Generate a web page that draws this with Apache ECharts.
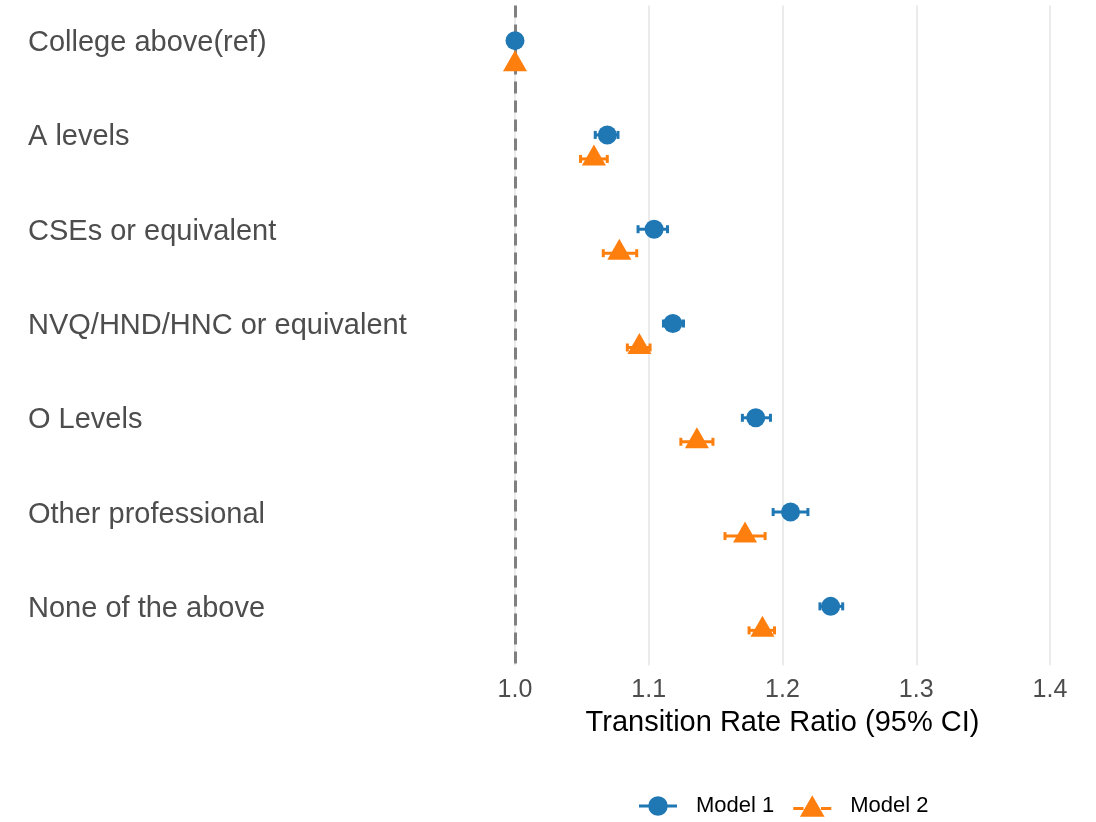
<!DOCTYPE html>
<html>
<head>
<meta charset="utf-8">
<title>Transition Rate Ratio by qualification</title>
<script src="https://cdn.jsdelivr.net/npm/echarts@6/dist/echarts.min.js"></script>
<style>
  html, body { margin: 0; padding: 0; background: #ffffff; }
  #chart { width: 1096px; height: 822px; }
</style>
</head>
<body>
<div id="chart"></div>
<script>
// Qualification categories (top to bottom)
const categories = [
  'College above(ref)',
  'A levels',
  'CSEs or equivalent',
  'NVQ/HND/HNC or equivalent',
  'O Levels',
  'Other professional',
  'None of the above'
];

// Model 1: rate ratio and 95% CI
const m1Est  = [1.000, 1.069, 1.104, 1.118, 1.180, 1.206, 1.236];
const m1Low  = [1.000, 1.060, 1.092, 1.111, 1.170, 1.193, 1.228];
const m1High = [1.000, 1.077, 1.114, 1.126, 1.191, 1.219, 1.245];

// Model 2: rate ratio and 95% CI
const m2Est  = [1.000, 1.059, 1.078, 1.093, 1.136, 1.172, 1.185];
const m2Low  = [1.000, 1.049, 1.066, 1.084, 1.124, 1.157, 1.175];
const m2High = [1.000, 1.069, 1.091, 1.101, 1.148, 1.187, 1.194];

// x-axis ticks
const xTicks = [1.0, 1.1, 1.2, 1.3, 1.4];

const blue = '#1f77b4';
const orange = '#ff7f0e';
const FONT = "'Liberation Sans', Arial, sans-serif";

// Horizontal CI bar with end caps, shifted vertically to dodge the two models
function errorBarRenderer(color, offset) {
  return function (params, api) {
    const lo = api.coord([api.value(0), api.value(2)]);
    const hi = api.coord([api.value(1), api.value(2)]);
    const y = lo[1] + offset;
    const cap = 4;
    const style = { stroke: color, lineWidth: 3 };
    return {
      type: 'group',
      children: [
        { type: 'line', shape: { x1: lo[0], y1: y, x2: hi[0], y2: y }, style: style },
        { type: 'line', shape: { x1: lo[0], y1: y - cap, x2: lo[0], y2: y + cap }, style: style },
        { type: 'line', shape: { x1: hi[0], y1: y - cap, x2: hi[0], y2: y + cap }, style: style }
      ]
    };
  };
}

const m1Bars = categories.map((c, i) => [m1Low[i], m1High[i], i]);
const m2Bars = categories.map((c, i) => [m2Low[i], m2High[i], i]);
const m1Pts = categories.map((c, i) => [m1Est[i], i]);
const m2Pts = categories.map((c, i) => [m2Est[i], i]);

const circleIcon = 'path://M0,8.5h9.5v3h-9.5z M27.5,8.5h9.5v3h-9.5z M9,10a9.5,9.5 0 1,1 19,0a9.5,9.5 0 1,1 -19,0z';
const triangleIcon = 'path://M0,11.5h10v3h-10z M27,11.5h10v3h-10z M18.5,0L30.5,21L6.5,21z';

const chart = echarts.init(document.getElementById('chart'), null, { renderer: 'canvas' });

chart.setOption({
  backgroundColor: '#ffffff',
  animation: false,
  textStyle: { fontFamily: FONT },
  grid: { left: 515, right: 46, top: 5.5, height: 660, containLabel: false },
  xAxis: {
    type: 'value',
    min: xTicks[0],
    max: xTicks[xTicks.length - 1],
    interval: 0.1,
    axisLine: { show: false },
    axisTick: { show: false },
    splitLine: { show: true, lineStyle: { color: '#ebebeb', width: 2 } },
    axisLabel: {
      color: '#4d4d4d',
      fontSize: 25,
      fontFamily: FONT,
      margin: 12,
      formatter: v => v.toFixed(1)
    },
    name: 'Transition Rate Ratio (95% CI)',
    nameLocation: 'middle',
    nameGap: 43,
    nameTextStyle: { color: '#000000', fontSize: 29, fontFamily: FONT }
  },
  yAxis: {
    type: 'category',
    data: categories,
    inverse: true,
    axisLine: { show: false },
    axisTick: { show: false },
    splitLine: { show: false },
    axisLabel: {
      align: 'left',
      verticalAlign: 'bottom',
      lineHeight: 19,
      margin: 487,
      color: '#4d4d4d',
      fontSize: 29,
      fontFamily: FONT
    }
  },
  legend: {
    left: 639,
    top: 795,
    padding: 0,
    itemWidth: 38,
    itemHeight: 22,
    itemGap: 19,
    textStyle: { color: '#000000', fontSize: 22, fontFamily: FONT, padding: [0, 0, 0, 14] },
    data: [
      { name: 'Model 1', icon: circleIcon, itemStyle: { color: blue } },
      { name: 'Model 2', icon: triangleIcon, itemStyle: { color: orange } }
    ]
  },
  series: [
    {
      name: 'Model 1',
      type: 'custom',
      renderItem: errorBarRenderer(blue, -12),
      encode: { x: [0, 1], y: 2 },
      data: m1Bars,
      z: 2
    },
    {
      name: 'Model 2',
      type: 'custom',
      renderItem: errorBarRenderer(orange, 12),
      encode: { x: [0, 1], y: 2 },
      data: m2Bars,
      z: 2
    },
    {
      name: 'Model 1',
      type: 'scatter',
      data: m1Pts,
      symbol: 'circle',
      symbolSize: 19,
      symbolOffset: [0, -12],
      itemStyle: { color: blue, opacity: 1 },
      z: 3,
      // reference line at ratio 1
      markLine: {
        silent: true,
        symbol: ['none', 'none'],
        label: { show: false },
        z: 1,
        lineStyle: { color: '#808080', width: 3, type: [12, 7], opacity: 1 },
        data: [{ xAxis: 1.0 }]
      }
    },
    {
      name: 'Model 2',
      type: 'scatter',
      data: m2Pts,
      symbol: 'triangle',
      symbolSize: [24, 21],
      symbolOffset: [0, 8],
      itemStyle: { color: orange, opacity: 1 },
      z: 3
    }
  ]
});
</script>
</body>
</html>
